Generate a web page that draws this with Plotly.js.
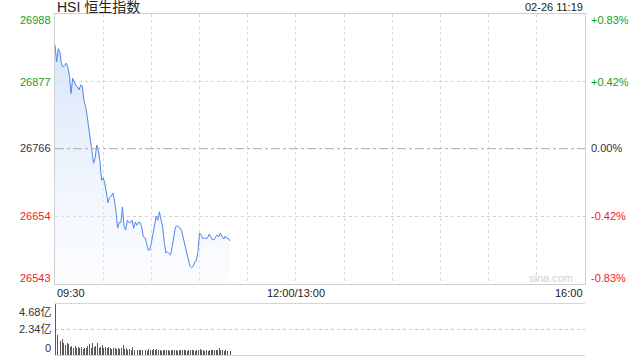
<!DOCTYPE html>
<html>
<head>
<meta charset="utf-8">
<script src="https://cdn.plot.ly/plotly-3.0.1.min.js"></script>
<style>html,body{margin:0;padding:0;background:#fff;}#chart{width:640px;height:360px;}</style>
</head>
<body>
<div id="chart"></div>
<script>
// ---- data ----
const titleText = "HSI 恒生指数";
const timeStamp = "02-26 11:19";
const preClose = 26766;
const priceTicks = [26988, 26877, 26766, 26654, 26543];
const pctTicks = ["+0.83%", "+0.42%", "0.00%", "-0.42%", "-0.83%"];
const timeLabels = ["09:30", "12:00/13:00", "16:00"];
const timeLabelMinutes = [0, 150, 330];
const volTicks = [4.68, 2.34, 0];
const volTickLabels = ["4.68亿", "2.34亿", "0"];
// minute index from 09:30 (trading minutes, lunch break removed)
const prices = [
  26937, 26909, 26931, 26926, 26906, 26901, 26903, 26907, 26900, 26887,
  26857, 26882, 26876, 26870, 26868, 26863, 26871, 26869, 26846, 26836,
  26820, 26800, 26778, 26761, 26742, 26751, 26772, 26762, 26745, 26714,
  26718, 26709, 26693, 26677, 26686, 26688, 26693, 26681, 26662, 26635,
  26645, 26644, 26670, 26638, 26632, 26648, 26645, 26644, 26648, 26635,
  26645, 26640, 26645, 26644, 26637, 26621, 26619, 26611, 26599, 26599,
  26611, 26629, 26640, 26655, 26648, 26662, 26646, 26637, 26613, 26594,
  26596, 26594, 26591, 26605, 26624, 26637, 26639, 26637, 26635, 26629,
  26618, 26605, 26594, 26588, 26572, 26570, 26572, 26580, 26581, 26596,
  26627, 26624, 26618, 26619, 26618, 26619, 26625, 26621, 26616, 26616,
  26621, 26624, 26621, 26627, 26621, 26617, 26622, 26618, 26618, 26614
];
const volumes = [
  4.68, 1.87, 1.34, 1.25, 1.43, 1.09, 0.96, 1.12, 1.00, 0.72,
  0.81, 0.66, 0.81, 0.62, 0.72, 0.66, 0.75, 0.59, 0.62, 0.68,
  0.78, 0.98, 0.68, 1.12, 0.74, 0.80, 1.06, 0.66, 0.70, 0.94,
  0.62, 0.76, 0.60, 0.72, 0.62, 0.56, 0.68, 0.60, 0.52, 0.66,
  0.58, 0.62, 0.95, 0.52, 0.68, 0.50, 0.54, 0.48, 0.72, 0.46,
  0.56, 0.44, 0.50, 0.46, 0.42, 0.66, 0.48, 0.40, 0.52, 0.44,
  0.50, 0.58, 0.46, 0.52, 0.44, 0.48, 0.40, 0.46, 0.42, 0.44,
  0.50, 0.40, 0.46, 0.44, 0.48, 0.42, 0.40, 0.46, 0.44, 0.50,
  0.42, 0.46, 0.40, 0.44, 0.48, 0.42, 0.46, 0.40, 0.44, 0.46,
  0.54, 0.42, 0.46, 0.40, 0.44, 0.38, 0.42, 0.46, 0.44, 0.48,
  0.42, 0.50, 0.68, 0.44, 0.46, 0.40, 0.42, 0.38, 0.40, 0.36
];
const totalMinutes = 330;

// ---- build ----
const minutes = prices.map((_, i) => i);
const FONT = "Liberation Sans, Arial, Noto Sans CJK SC, sans-serif";
const GREEN = "#1a9e1a", RED = "#ee2222", GRAY = "#333333";

function colorFor(v) { return v > preClose ? GREEN : (v < preClose ? RED : GRAY); }

const priceTrace = {
  x: minutes, y: prices, type: "scatter", mode: "lines",
  line: { color: "#4f86e8", width: 1 },
  fill: "tozeroy",
  fillgradient: {
    type: "vertical",
    start: priceTicks[4], stop: priceTicks[0],
    colorscale: [[0, "rgba(235,242,253,0.2)"], [1, "rgba(205,222,249,0.95)"]]
  },
  hoverinfo: "skip", xaxis: "x", yaxis: "y"
};
const volTrace = {
  x: minutes, y: volumes, type: "bar",
  marker: { color: "#5a5a5a", line: { width: 0 } },
  width: 0.6, hoverinfo: "skip", xaxis: "x2", yaxis: "y2"
};

const annotations = [];
annotations.push({ xref: "paper", yref: "paper", x: 0, y: 1.0205, xanchor: "left", yanchor: "middle",
  text: titleText, showarrow: false, font: { family: FONT, size: 14, color: "#222" } });
annotations.push({ xref: "paper", yref: "paper", x: 1, y: 1.0205, xanchor: "right", yanchor: "middle",
  text: timeStamp, showarrow: false, font: { family: FONT, size: 11, color: "#222" } });
const shifts = [-6, -1, 1, 1, 6];
priceTicks.forEach((v, i) => {
  const c = colorFor(v);
  annotations.push({ xref: "paper", yref: "y", x: 0, y: v, xanchor: "right", yanchor: "middle", xshift: -2, yshift: shifts[i],
    text: String(v), showarrow: false, font: { family: FONT, size: 11, color: c } });
  annotations.push({ xref: "paper", yref: "y", x: 1, y: v, xanchor: "left", yanchor: "middle", xshift: 4, yshift: shifts[i],
    text: pctTicks[i], showarrow: false, font: { family: FONT, size: 11, color: c } });
});
const anchors = ["left", "center", "right"];
timeLabels.forEach((t, i) => {
  annotations.push({ xref: "x", yref: "paper", x: timeLabelMinutes[i], y: 0.182, xanchor: anchors[i], yanchor: "middle",
    text: t, showarrow: false, font: { family: FONT, size: 11, color: "#222" } });
});
const vshifts = [-8, 0, 7];
volTicks.forEach((v, i) => {
  annotations.push({ xref: "paper", yref: "y2", x: 0, y: v, xanchor: "right", yanchor: "middle", xshift: -2, yshift: vshifts[i],
    text: volTickLabels[i], showarrow: false, font: { family: FONT, size: 11, color: GRAY } });
});
annotations.push({ xref: "paper", yref: "y", x: 1, y: priceTicks[4], xanchor: "right", yanchor: "middle", xshift: -10, yshift: 6,
  text: "sina.com", showarrow: false, font: { family: FONT, size: 11, color: "#cfcfcf" } });

const gridTicks = [];
for (let m = 30; m < totalMinutes; m += 30) gridTicks.push(m);

const layout = {
  width: 640, height: 360,
  margin: { l: 55, r: 55, t: 14, b: 5 },
  paper_bgcolor: "#fff", plot_bgcolor: "#fff",
  showlegend: false,
  xaxis: { domain: [0, 1], range: [0, totalMinutes], tickvals: gridTicks, showticklabels: false, ticks: "",
    showgrid: true, gridcolor: "#dadada", griddash: "dot", gridwidth: 1,
    showline: true, mirror: true, linecolor: "#cfcfcf", linewidth: 1, zeroline: false, fixedrange: true, anchor: "y" },
  yaxis: { domain: [0.2082, 1], range: [priceTicks[4], priceTicks[0]], tickvals: [priceTicks[1], priceTicks[3]],
    showticklabels: false, ticks: "", showgrid: true, gridcolor: "#d2d2d2", griddash: "dot",
    showline: true, mirror: true, linecolor: "#cfcfcf", linewidth: 1, zeroline: false, anchor: "x" },
  xaxis2: { domain: [0, 1], range: [-0.5, totalMinutes], showticklabels: false, ticks: "", showgrid: false,
    showline: true, mirror: true, linecolor: "#d6d6d6", linewidth: 1, zeroline: false, anchor: "y2" },
  yaxis2: { domain: [0, 0.1496], range: [0, volTicks[0]], tickvals: [volTicks[1], volTicks[0]],
    showticklabels: false, ticks: "", showgrid: true, gridcolor: "#c8c8c8", griddash: "dot",
    showline: false, zeroline: false, anchor: "x2" },
  shapes: [{ type: "line", xref: "paper", yref: "y", x0: 0, x1: 1, y0: preClose, y1: preClose,
    line: { color: "#aaaaaa", width: 1, dash: "dashdot" } }],
  annotations: annotations,
  bargap: 0
};

Plotly.newPlot("chart", [priceTrace, volTrace], layout, { staticPlot: true, displayModeBar: false });
</script>
</body>
</html>
